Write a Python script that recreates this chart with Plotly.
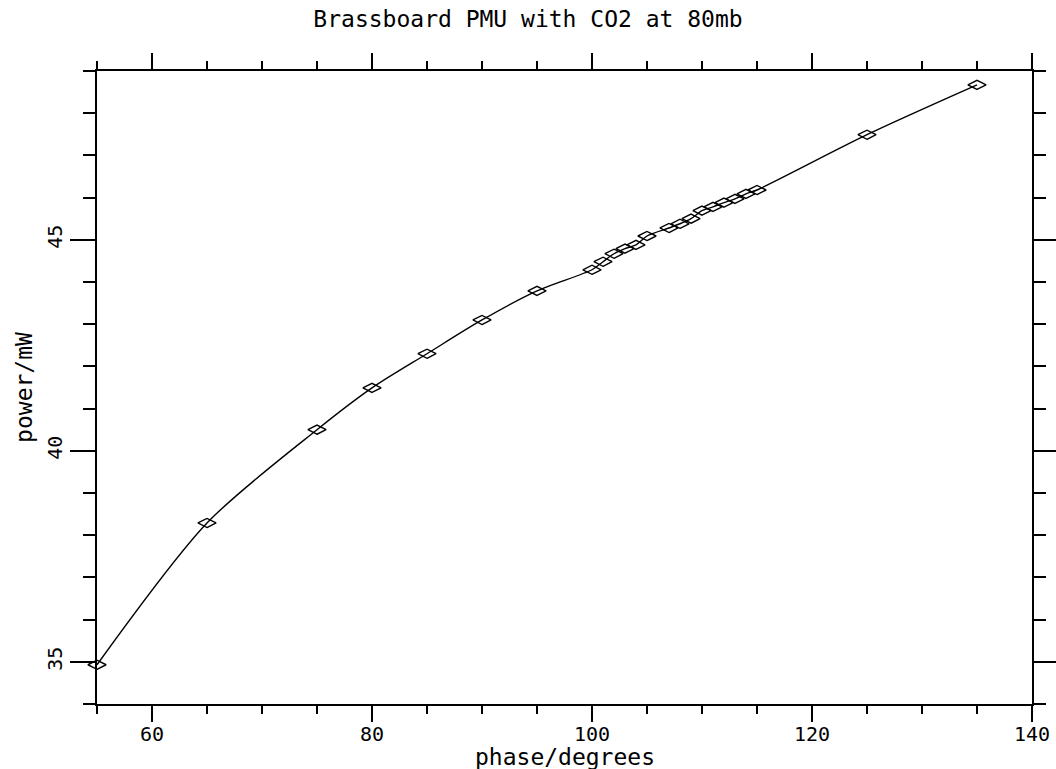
import plotly.graph_objects as go

phase = [55, 65, 75, 80, 85, 90, 95, 100, 101, 102, 103, 104, 105, 107, 108, 109,
         110, 111, 112, 113, 114, 115, 125, 135]
power = [34.93, 38.29, 40.5, 41.49, 42.3, 43.1, 43.79, 44.29, 44.48, 44.67, 44.79,
         44.88, 45.09, 45.28, 45.38, 45.5, 45.69, 45.78, 45.88, 45.97, 46.09, 46.18,
         47.49, 48.67]

FONT = "DejaVu Sans Mono"

fig = go.Figure()
fig.add_trace(go.Scatter(
    x=phase, y=power, mode="lines+markers", cliponaxis=False,
    line=dict(color="black", width=1.4, shape="spline", smoothing=0.8),
    marker=dict(symbol="diamond-wide-open", size=13, color="black",
                line=dict(color="black", width=1.4)),
    showlegend=False,
))

axis_common = dict(
    showline=True, linecolor="black", linewidth=1.5, mirror="allticks",
    ticks="outside", tickcolor="black", tickwidth=1.5,
    showgrid=False, zeroline=False, automargin=False,
    tickfont=dict(family=FONT, size=20, color="black"),
)

fig.update_xaxes(
    range=[55, 140], tickvals=[60, 80, 100, 120, 140], ticklen=16,
    ticklabelstandoff=-5,
    minor=dict(tickvals=list(range(55, 141, 5)), ticklen=8, tickcolor="black",
               tickwidth=1.5, ticks="outside", showgrid=False),
    **axis_common,
)
fig.update_yaxes(
    range=[34, 49], tickvals=[35, 40, 45], ticklen=25, tickangle=-90,
    minor=dict(tickvals=list(range(34, 50)), ticklen=12, tickcolor="black",
               tickwidth=1.5, ticks="outside", showgrid=False),
    title=dict(text="power/mW", font=dict(family=FONT, size=23, color="black"),
               standoff=4),
    **axis_common,
)

fig.add_annotation(
    text="phase/degrees", xref="paper", yref="paper", x=0.5, y=-0.084,
    xanchor="center", yanchor="middle", showarrow=False,
    font=dict(family=FONT, size=23, color="black"),
)

fig.update_layout(
    width=1056, height=769,
    margin=dict(l=97, r=24, t=71, b=65),
    paper_bgcolor="white", plot_bgcolor="white",
    title=dict(text="Brassboard PMU with CO2 at 80mb", x=0.5, xanchor="center",
               y=0.976, yanchor="middle",
               font=dict(family=FONT, size=23, color="black")),
)

fig.write_html("out.html")
